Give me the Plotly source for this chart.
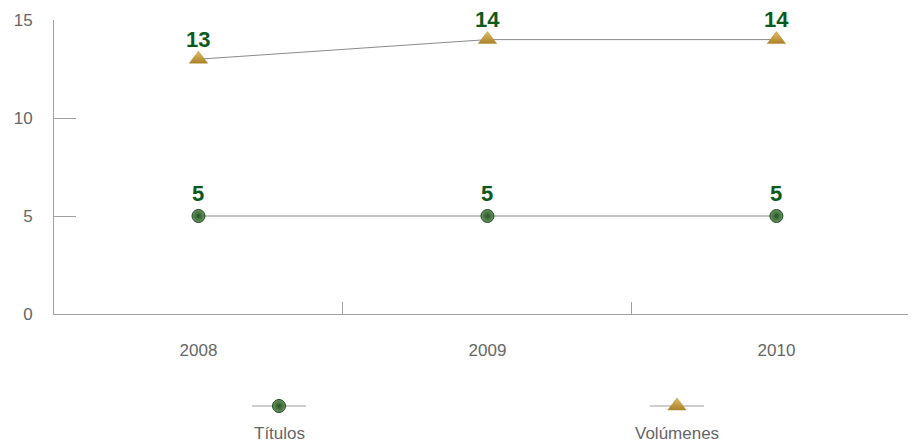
import plotly.graph_objects as go

categories = ["2008", "2009", "2010"]
titulos = [5, 5, 5]
volumenes = [13, 14, 14]
series_names = ["Títulos", "Volúmenes"]
y_ticks = [0, 5, 10, 15]

# page body adds an 8px margin; the figure fills the rest of the 916x445 window
OFF = 8
W, H = 916 - OFF, 445 - OFF
FONT = "Liberation Sans, Arial, sans-serif"
GRAY = "#666666"
AXIS = "#a0a0a0"
LABEL = "#0b5a1c"

green_marker = dict(symbol="circle", size=13, color="#6f9560",
                    gradient=dict(type="radial", color="#1f5326"),
                    line=dict(color="#1a4a1f", width=1))
gold_marker = dict(symbol="triangle-up", size=16, color="#e2bd62",
                   gradient=dict(type="vertical", color="#a9812b"),
                   line=dict(color="#b08a30", width=0.5))

fig = go.Figure()
series = [(series_names[0], titulos, green_marker, 23),
          (series_names[1], volumenes, gold_marker, 20)]
for name, vals, mk, shift in series:
    fig.add_trace(go.Scatter(
        x=categories, y=vals, mode="lines+markers", name=name,
        line=dict(color="#8a8a8a", width=1), marker=mk,
        showlegend=False, cliponaxis=False))
    for i, v in enumerate(vals):
        fig.add_annotation(x=i, y=v, xref="x", yref="y", text="<b>%d</b>" % v,
                           showarrow=False, yshift=shift, borderpad=0,
                           font=dict(family=FONT, size=22, color=LABEL))

# custom legend (symbol above label) drawn on an overlay pixel axis
leg_x = [279 - OFF, 677 - OFF]
leg_y = 406 - OFF
for name, mk, lx in zip(series_names, [green_marker, gold_marker], leg_x):
    fig.add_trace(go.Scatter(
        x=[lx - 27, lx, lx + 27], y=[leg_y, leg_y, leg_y], mode="lines",
        line=dict(color="#9a9a9a", width=1), xaxis="x2", yaxis="y2",
        showlegend=False, hoverinfo="skip"))
    fig.add_trace(go.Scatter(
        x=[lx], y=[leg_y], mode="markers", marker=mk, xaxis="x2", yaxis="y2",
        showlegend=False, hoverinfo="skip"))
    fig.add_annotation(x=lx, y=433 - OFF, xref="x2", yref="y2", text=name,
                       showarrow=False, font=dict(family=FONT, size=17, color=GRAY))

x_left, y_top, y_bot = 54 - OFF, 20 - OFF, 314 - OFF
fig.update_layout(
    width=W, height=H, margin=dict(l=0, r=0, t=0, b=0, autoexpand=False),
    paper_bgcolor="white", plot_bgcolor="rgba(0,0,0,0)",
    font=dict(family=FONT, size=17, color=GRAY),
    xaxis=dict(domain=[x_left / W, 1], range=[-0.5, 2.483], type="category",
               showgrid=False, showline=True, linecolor=AXIS, linewidth=1,
               ticks="inside", ticklen=12, tickcolor=AXIS, tickson="boundaries",
               tickfont=dict(family=FONT, size=17, color=GRAY), anchor="y",
               ticklabelstandoff=21),
    yaxis=dict(domain=[(H - y_bot) / H, (H - y_top) / H], range=[0, 15],
               tickvals=y_ticks, showgrid=False, zeroline=False,
               showline=True, linecolor=AXIS, linewidth=1,
               ticks="inside", ticklen=22, tickcolor=AXIS,
               tickfont=dict(family=FONT, size=17, color=GRAY),
               ticklabelstandoff=17, anchor="x"),
    xaxis2=dict(domain=[0, 1], range=[0, W], visible=False, anchor="y2"),
    yaxis2=dict(domain=[0, 1], range=[H, 0], visible=False, anchor="x2"),
)

fig.write_html("out.html")
